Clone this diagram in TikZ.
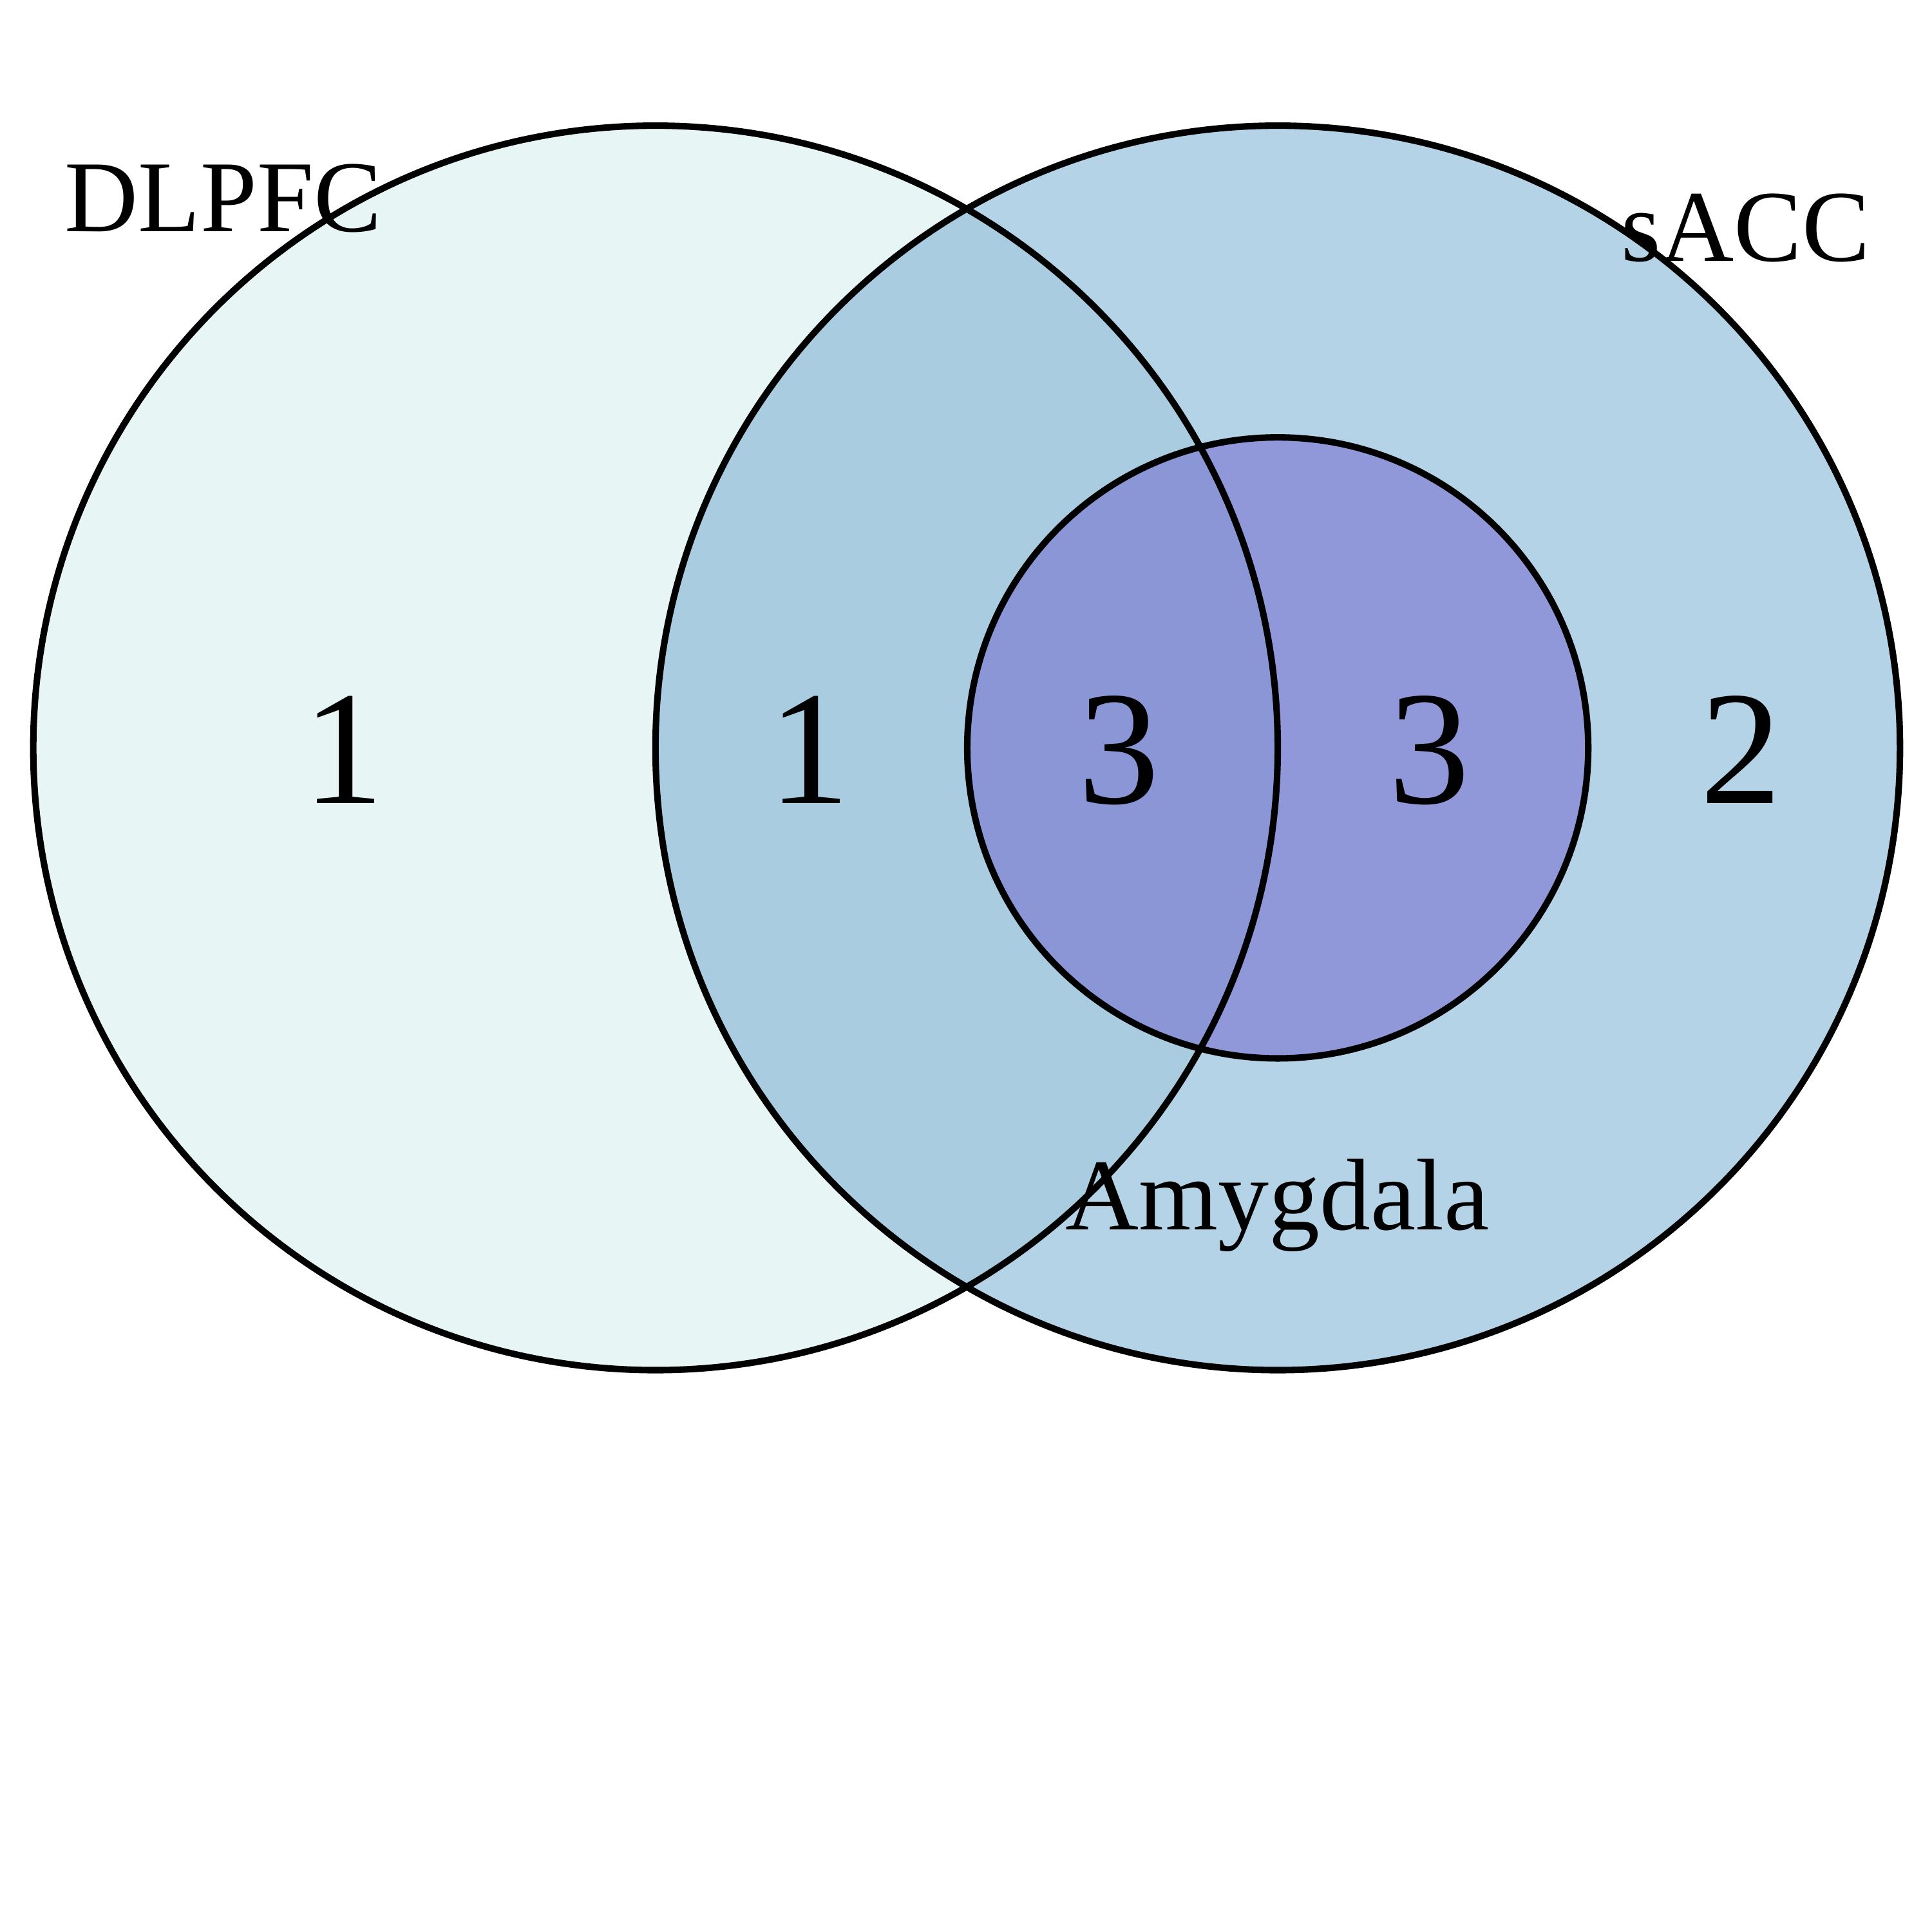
\documentclass[tikz,border=0pt]{standalone}
\usepackage{fontspec}
\setmainfont{Liberation Serif}
\usetikzlibrary{positioning}

\definecolor{dlpfcfill}{HTML}{E7F5F5}
\definecolor{saccfill}{HTML}{B5D3E7}
\definecolor{bothfill}{HTML}{AACCE0}
\definecolor{amyfill}{HTML}{9198DA}
\definecolor{allfill}{HTML}{8B96D7}

\tikzset{
  ring/.style={draw=black,line width=1.5pt},
  setname/.style={inner sep=0pt,anchor=base west,font=\fontsize{23.5}{28}\selectfont},
  count/.style={inner sep=0pt,anchor=base,font=\fontsize{37.5}{45}\selectfont}
}

\begin{document}
\begin{tikzpicture}
  \useasboundingbox (0,0) rectangle (15.68,15.68);
  \coordinate (cL) at (5.32,9.61);
  \coordinate (cR) at (10.37,9.61);
  % areas
  \fill[dlpfcfill] (cL) circle (5.05);
  \fill[saccfill] (cR) circle (5.05);
  \begin{scope}
    \clip (cL) circle (5.05);
    \fill[bothfill] (cR) circle (5.05);
  \end{scope}
  \fill[amyfill] (cR) circle (2.52);
  \begin{scope}
    \clip (cL) circle (5.05);
    \fill[allfill] (cR) circle (2.52);
  \end{scope}
  % outlines
  \draw[ring] (cL) circle (5.05);
  \draw[ring] (cR) circle (5.05);
  \draw[ring] (cR) circle (2.52);
  % set names
  \node[setname] (dlpfc) at (0.52,13.80) {DLPFC};
  \node[setname] (sacc) at (13.15,13.56) {sACC};
  \node[setname] (amy) at (8.64,5.70) {Amygdala};
  % counts
  \node[count] (n1) at (2.79,9.16) {1};
  \node[count] (n2) at (6.57,9.16) {1};
  \node[count] (n3) at (9.08,9.16) {3};
  \node[count] (n4) at (11.60,9.16) {3};
  \node[count] (n5) at (14.13,9.16) {2};
\end{tikzpicture}
\end{document}
